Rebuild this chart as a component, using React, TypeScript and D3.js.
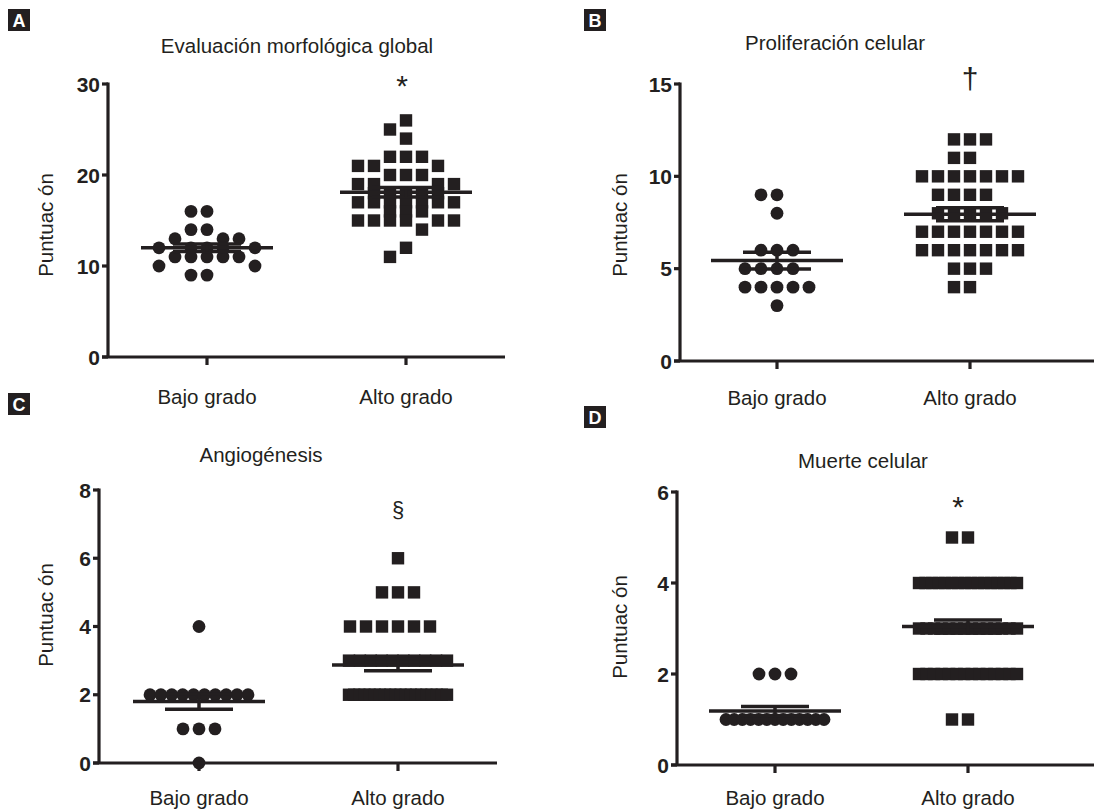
import React from "react";
import * as d3 from "d3";

// ---------- data ----------
const categories = ["Bajo grado", "Alto grado"];
const yLabel = "Puntuac ón";

const aTicks = [0, 10, 20, 30];
const aBajo = [16, 16, 14, 14, 13, 13, 13, 12, 12, 12, 12, 12, 11, 11, 11, 11, 11, 10, 10, 9, 9];
const aAlto = [26, 25, 24, 22, 22, 22, 21, 21, 21, 20, 20, 20, 19, 19, 19, 19, 18, 18, 18, 18, 18,
  17, 17, 17, 17, 17, 17, 17, 16, 16, 16, 15, 15, 15, 15, 15, 15, 14, 12, 11];

const bTicks = [0, 5, 10, 15];
const bBajo = [9, 9, 8, 6, 6, 6, 5, 5, 5, 5, 4, 4, 4, 4, 4, 3];
const bAlto = [12, 12, 12, 11, 11, 10, 10, 10, 10, 10, 10, 10, 9, 9, 9, 9, 8, 8, 8, 8, 8,
  7, 7, 7, 7, 7, 7, 7, 6, 6, 6, 6, 6, 6, 6, 5, 5, 5, 4, 4];

const cTicks = [0, 2, 4, 6, 8];
const cBajo = [4, 2, 2, 2, 2, 2, 2, 2, 2, 2, 2, 1, 1, 1, 0];
const cAlto = [6, 5, 5, 5, 4, 4, 4, 4, 4, 4,
  3, 3, 3, 3, 3, 3, 3, 3, 3, 3,
  2, 2, 2, 2, 2, 2, 2, 2, 2, 2, 2, 2, 2, 2, 2, 2, 2, 2, 2, 2];

const dTicks = [0, 2, 4, 6];
const dBajo = [2, 2, 2, 1, 1, 1, 1, 1, 1, 1, 1, 1, 1, 1, 1, 1];
const dAlto = [5, 5, 4, 4, 4, 4, 4, 4, 4, 4, 4, 4, 4, 4, 4, 4, 4, 4,
  3, 3, 3, 3, 3, 3, 3, 3, 3, 3, 3, 3, 3, 3,
  2, 2, 2, 2, 2, 2, 2, 2, 2, 2, 2, 2, 2, 2, 1, 1];

const titles = ["Evaluación morfológica global", "Proliferación celular", "Angiogénesis", "Muerte celular"];
const letters = ["A", "B", "C", "D"];
const sigMarks = ["*", "†", "§", "*"];

// ---------- style ----------
const INK = "#231f20";
const FONT = "'Liberation Sans', Arial, Helvetica, sans-serif";
const COL = 16; // column spacing of scatter
const R = 6.4; // circle radius
const SQ = 12.4; // square side
const MAX_SPAN = 98;

type Panel = {
  letterX: number; letterY: number;
  titleX: number; titleY: number;
  axisX: number; y0: number; y1: number; max: number; ticks: number[];
  xEnd: number; cat: [number, number]; catLabelY: number;
  ylabX: number; ylabY: number;
  groups: number[][];
  sigX: number; sigY: number; sigSize: number;
};

const panels: Panel[] = [
  { letterX: 8, letterY: 9, titleX: 297, titleY: 53, axisX: 108, y0: 357, y1: 84, max: 30, ticks: aTicks,
    xEnd: 505, cat: [207, 406], catLabelY: 404, ylabX: 53, ylabY: 225, groups: [aBajo, aAlto],
    sigX: 402, sigY: 96, sigSize: 30 },
  { letterX: 584, letterY: 9, titleX: 835, titleY: 50, axisX: 680, y0: 361, y1: 84, max: 15, ticks: bTicks,
    xEnd: 1094, cat: [777, 970], catLabelY: 405, ylabX: 627, ylabY: 225, groups: [bBajo, bAlto],
    sigX: 970, sigY: 89, sigSize: 30 },
  { letterX: 8, letterY: 393, titleX: 261, titleY: 462, axisX: 99, y0: 763, y1: 490, max: 8, ticks: cTicks,
    xEnd: 497, cat: [199, 398], catLabelY: 805, ylabX: 53, ylabY: 615, groups: [cBajo, cAlto],
    sigX: 398, sigY: 517, sigSize: 22 },
  { letterX: 584, letterY: 406, titleX: 863, titleY: 468, axisX: 677, y0: 765, y1: 492, max: 6, ticks: dTicks,
    xEnd: 1094, cat: [775, 968], catLabelY: 805, ylabX: 627, ylabY: 627, groups: [dBajo, dAlto],
    sigX: 958, sigY: 517, sigSize: 30 },
];

function swarm(values: number[], y: (v: number) => number, size: number): number[] {
  const out: number[] = new Array(values.length).fill(0);
  const placed: { x: number; y: number }[] = [];
  const order = [0, -1, 1, -2, 2, -3, 3];
  const groups = d3.group(values.map((v, i) => ({ v, i })), (d) => d.v);
  for (const [v, items] of groups) {
    const yy = y(v);
    const n = items.length;
    const row: { x: number; y: number }[] = [];
    if (n > order.length) {
      const step = Math.min(COL, MAX_SPAN / (n - 1));
      items.forEach((d, k) => {
        const x = (k - (n - 1) / 2) * step;
        out[d.i] = x;
        row.push({ x, y: yy });
      });
    } else {
      const used = new Set<number>();
      for (const d of items) {
        let c = order.find((c) => !used.has(c) &&
          !placed.some((p) => Math.abs(p.x - c * COL) < COL * 0.5 && Math.abs(p.y - yy) < size * 0.85));
        if (c === undefined) c = order.find((c) => !used.has(c))!;
        used.add(c);
        out[d.i] = c * COL;
        row.push({ x: c * COL, y: yy });
      }
    }
    placed.push(...row);
  }
  return out;
}

function PanelView({ p, idx }: { p: Panel; idx: number }) {
  const y = d3.scaleLinear().domain([0, p.max]).range([p.y0, p.y1]);
  const x = d3.scalePoint<string>().domain(categories).range(p.cat);
  return (
    <g>
      {/* panel letter */}
      <rect x={p.letterX} y={p.letterY} width={22} height={22} fill={INK} />
      <text x={p.letterX + 11} y={p.letterY + 18} textAnchor="middle" fill="#fff"
        fontFamily={FONT} fontWeight="bold" fontSize={18}>{letters[idx]}</text>
      {/* title */}
      <text x={p.titleX} y={p.titleY} textAnchor="middle" fill={INK} fontFamily={FONT} fontSize={20.5}>
        {titles[idx]}
      </text>
      {/* y label */}
      <text transform={`translate(${p.ylabX},${p.ylabY}) rotate(-90)`} textAnchor="middle" fill={INK}
        fontFamily={FONT} fontSize={20.5}>{yLabel}</text>
      {/* points */}
      {p.groups.map((vals, gi) => {
        const cx = x(categories[gi])!;
        const offs = swarm(vals, y, gi === 0 ? 2 * R : SQ);
        return (
          <g key={gi} fill={INK}>
            {vals.map((v, i) =>
              gi === 0 ? (
                <circle key={i} cx={cx + offs[i]} cy={y(v)} r={R} />
              ) : (
                <rect key={i} x={cx + offs[i] - SQ / 2} y={y(v) - SQ / 2} width={SQ} height={SQ} />
              )
            )}
          </g>
        );
      })}
      {/* mean +- SEM */}
      {p.groups.map((vals, gi) => {
        const cx = x(categories[gi])!;
        const m = d3.mean(vals)!;
        const sem = d3.deviation(vals)! / Math.sqrt(vals.length);
        return (
          <g key={"m" + gi} stroke={INK} strokeWidth={3.5} fill="none">
            <line x1={cx - 66} x2={cx + 66} y1={y(m)} y2={y(m)} />
            <line x1={cx - 34} x2={cx + 34} y1={y(m + sem)} y2={y(m + sem)} />
            <line x1={cx - 34} x2={cx + 34} y1={y(m - sem)} y2={y(m - sem)} />
            <line x1={cx} x2={cx} y1={y(m + sem)} y2={y(m - sem)} />
          </g>
        );
      })}
      {/* axes */}
      <g stroke={INK} strokeWidth={3.2} fill="none">
        <line x1={p.axisX} x2={p.axisX} y1={y(p.max) - 1.6} y2={p.y0} />
        <line x1={p.axisX - 6} x2={p.xEnd} y1={p.y0} y2={p.y0} />
        {p.ticks.map((t) => (
          <line key={t} x1={p.axisX - 6} x2={p.axisX} y1={y(t)} y2={y(t)} />
        ))}
        {categories.map((c) => (
          <line key={c} x1={x(c)!} x2={x(c)!} y1={p.y0} y2={p.y0 + 8} />
        ))}
      </g>
      {p.ticks.map((t) => (
        <text key={t} x={p.axisX - 8} y={y(t)} dy="0.36em" textAnchor="end" fill={INK}
          fontFamily={FONT} fontWeight="bold" fontSize={21}>{t}</text>
      ))}
      {categories.map((c) => (
        <text key={c} x={x(c)!} y={p.catLabelY} textAnchor="middle" fill={INK}
          fontFamily={FONT} fontSize={20.5}>{c}</text>
      ))}
      {/* significance */}
      <text x={p.sigX} y={p.sigY} textAnchor="middle" fill={INK} fontFamily={FONT}
        fontSize={p.sigSize}>{sigMarks[idx]}</text>
    </g>
  );
}

export default function App() {
  return (
    <svg width={1094} height={811} style={{ position: "absolute", left: 0, top: 0, background: "#fff" }}>
      <rect width={1094} height={811} fill="#fff" />
      {panels.map((p, i) => (
        <PanelView key={i} p={p} idx={i} />
      ))}
    </svg>
  );
}
